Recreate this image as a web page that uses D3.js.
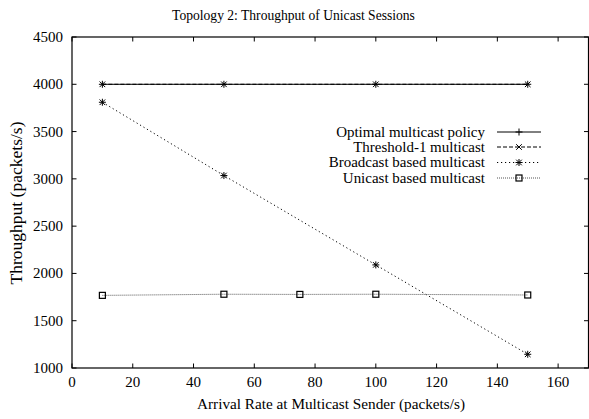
<!DOCTYPE html>
<html><head><meta charset="utf-8">
<script src="https://cdn.jsdelivr.net/npm/d3@7"></script>
<style>body{margin:0;background:#fff}svg{display:block}text{font-family:"Liberation Serif","Times New Roman",serif;fill:#000}</style>
</head><body>
<script>
const xTicks = [0,20,40,60,80,100,120,140,160];
const yTicks = [1000,1500,2000,2500,3000,3500,4000,4500];
const seriesNames = ["Optimal multicast policy","Threshold-1 multicast","Broadcast based multicast","Unicast based multicast"];
const optimalX = [10,50,100,150];
const optimalY = [4000,4000,4000,4000];
const thresholdX = [10,50,100,150];
const thresholdY = [4000,4000,4000,4000];
const broadcastX = [10,50,100,150];
const broadcastY = [3810,3035,2090,1145];
const unicastX = [10,50,75,100,150];
const unicastY = [1768,1780,1778,1780,1772];

const W=589,H=419;
const svg=d3.select("body").append("svg").attr("width",W).attr("height",H);
const x=d3.scaleLinear().domain([0,170]).range([72,588.5]);
const y=d3.scaleLinear().domain([1000,4500]).range([368,37]);

// scale font so that text width matches the reference width
function fit(sel,target){
  const n=sel.node(); const w=n.getComputedTextLength();
  const fs=parseFloat(sel.style("font-size"));
  sel.style("font-size",(fs*target/w).toFixed(2)+"px");
  return sel;
}
// measure a ruler string to get tick/legend font size
const probe=svg.append("text").style("font-size","13px").text("4500");
const tickFS=13*30/probe.node().getComputedTextLength();
probe.text("Optimal multicast policy");
const legFS=13*149/probe.node().getComputedTextLength();
probe.remove();

fit(svg.append("text").attr("x",293.5).attr("y",20).attr("text-anchor","middle").style("font-size","13px").text("Topology 2: Throughput of Unicast Sessions"),243);

const g=svg.append("g");
g.append("rect").attr("x",x(0)).attr("y",y(4500)).attr("width",x(170)-x(0)).attr("height",y(1000)-y(4500)).attr("fill","none").attr("stroke","#000").attr("stroke-width",1.2);
const tl=4.5;
xTicks.forEach(t=>{
  g.append("line").attr("x1",x(t)).attr("x2",x(t)).attr("y1",y(1000)).attr("y2",y(1000)-tl).attr("stroke","#000");
  g.append("line").attr("x1",x(t)).attr("x2",x(t)).attr("y1",y(4500)).attr("y2",y(4500)+tl).attr("stroke","#000");
  g.append("text").attr("x",x(t)).attr("y",y(1000)+19).attr("text-anchor","middle").style("font-size",tickFS+"px").text(t);
});
yTicks.forEach(t=>{
  g.append("line").attr("x1",x(0)).attr("x2",x(0)+tl).attr("y1",y(t)).attr("y2",y(t)).attr("stroke","#000");
  g.append("line").attr("x1",x(170)).attr("x2",x(170)-tl).attr("y1",y(t)).attr("y2",y(t)).attr("stroke","#000");
  g.append("text").attr("x",63).attr("y",y(t)+5).attr("text-anchor","end").style("font-size",tickFS+"px").text(t);
});
fit(svg.append("text").attr("x",331).attr("y",409).attr("text-anchor","middle").style("font-size","13px").text("Arrival Rate at Multicast Sender (packets/s)"),268);
fit(svg.append("text").attr("transform","translate(22,203) rotate(-90)").attr("text-anchor","middle").style("font-size","13px").text("Throughput (packets/s)"),163);

const styles=[
 {dash:null,color:"#000",w:1,m:"plus"},
 {dash:"4,2",color:"#000",w:1,m:"cross"},
 {dash:"1.2,2.8",color:"#000",w:1,m:"star"},
 {dash:"1,1",color:"#555",w:1,m:"square"}
];
const data=[[optimalX,optimalY],[thresholdX,thresholdY],[broadcastX,broadcastY],[unicastX,unicastY]];
function marker(sel,type,cx,cy){
  const s=3.5;
  const p=sel.append("g").attr("transform",`translate(${cx},${cy})`).attr("stroke","#000").attr("stroke-width",1).attr("fill","none");
  if(type==="plus"||type==="star"){p.append("line").attr("x1",-s).attr("x2",s);p.append("line").attr("y1",-s).attr("y2",s);}
  if(type==="cross"||type==="star"){p.append("line").attr("x1",-s*0.8).attr("x2",s*0.8).attr("y1",-s*0.8).attr("y2",s*0.8);p.append("line").attr("x1",-s*0.8).attr("x2",s*0.8).attr("y1",s*0.8).attr("y2",-s*0.8);}
  if(type==="square"){p.append("rect").attr("x",-3).attr("y",-3).attr("width",6).attr("height",6).attr("stroke-width",1.2);}
}
const line=d3.line().x(d=>x(d[0])).y(d=>y(d[1]));
data.forEach((d,i)=>{
  const pts=d[0].map((v,j)=>[v,d[1][j]]);
  const st=styles[i];
  g.append("path").datum(pts).attr("d",line).attr("fill","none").attr("stroke",st.color).attr("stroke-width",st.w).attr("stroke-dasharray",st.dash);
  pts.forEach(p=>marker(g,st.m,x(p[0]),y(p[1])));
});
const ly=[132,147,162.5,178];
seriesNames.forEach((n,i)=>{
  const st=styles[i];
  svg.append("text").attr("x",485).attr("y",ly[i]+4.5).attr("text-anchor","end").style("font-size",legFS+"px").text(n);
  svg.append("line").attr("x1",497).attr("x2",541).attr("y1",ly[i]).attr("y2",ly[i]).attr("stroke",st.color).attr("stroke-width",st.w).attr("stroke-dasharray",st.dash);
  marker(svg,st.m,519,ly[i]);
});
</script>
</body></html>
